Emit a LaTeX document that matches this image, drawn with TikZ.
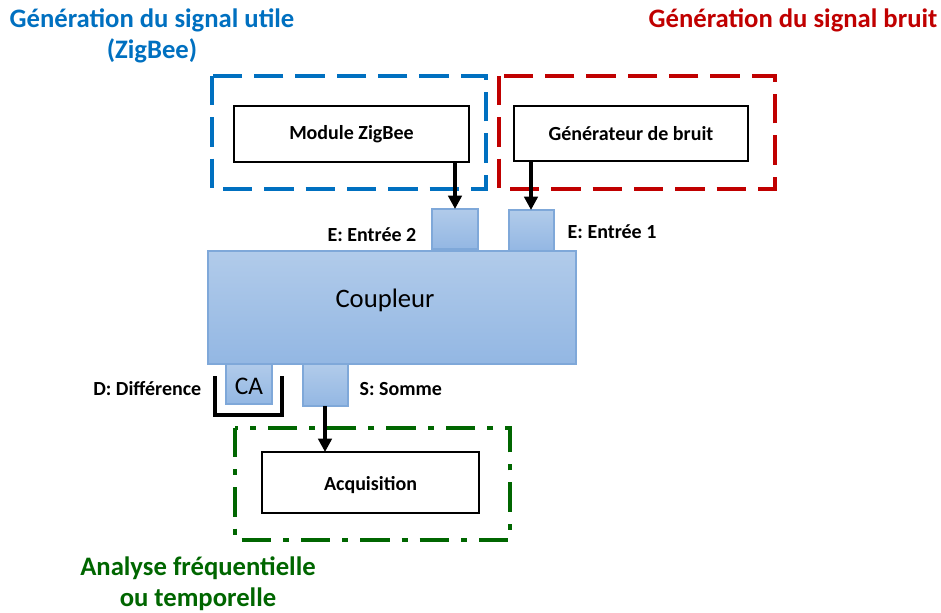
\documentclass[tikz,border=0pt]{standalone}
\usepackage{fontspec}
\setmainfont{Carlito}
\usetikzlibrary{arrows.meta}
\definecolor{tblue}{HTML}{0070C0}
\definecolor{tred}{HTML}{C00000}
\definecolor{tgreen}{HTML}{006600}
\definecolor{ftop}{HTML}{B1CBEA}
\definecolor{fbot}{HTML}{93B7E3}
\definecolor{fedge}{HTML}{7FA8D9}
\tikzset{
  pane/.style={draw=black, line width=0.8pt, fill=white},
  port/.style={draw=fedge, line width=0.8pt, top color=ftop, bottom color=fbot},
  grp/.style={line width=3pt, dash pattern=on 22pt off 9pt},
  dashdot/.style={line width=3pt, dash pattern=on 22pt off 9pt on 4.5pt off 9pt},
  conn/.style={line width=2.6pt, -{Triangle[length=10pt,width=10pt]}},
  lbl/.style={font=\fontsize{15}{18}\selectfont\bfseries},
  ttl/.style={font=\fontsize{20}{23.5}\selectfont\bfseries, align=center},
}
\begin{document}
\begin{tikzpicture}[x=0.75pt,y=-0.75pt]
\useasboundingbox (0,0) rectangle (941,613);
% group frames
\draw[grp, tblue] (212,76) rectangle (486,189);
\draw[grp, tred] (499,76) rectangle (775,189);
\draw[dashdot, tgreen] (235,428) rectangle (510,540);
% titles
\node[ttl, text=tblue] (t1) at (152,36) {Génération du signal utile\\(ZigBee)};
\node[ttl, text=tred] (t2) at (793,20) {Génération du signal bruit};
\node[ttl, text=tgreen] (t3) at (198,584) {Analyse fréquentielle\\ou temporelle};
% boxes
\path[pane] (234,106) rectangle (469,162);
\node[lbl] (mz) at (351.5,134) {Module ZigBee};
\path[pane] (514,106) rectangle (748,161);
\node[lbl] (gb) at (631,133.5) {Générateur de bruit};
\path[pane] (262,452) rectangle (479,513);
\node[lbl] (acq) at (370.5,485) {Acquisition};
% coupler
\path[port] (208,251) rectangle (576,364);
\node[font=\fontsize{20}{24}\selectfont] (cp) at (385,300) {Coupleur};
% ports
\path[port] (432,209) rectangle (478,249);
\path[port] (509,210) rectangle (554,251);
\path[port] (226,364) rectangle (272,404);
\node[font=\fontsize{19}{22}\selectfont] (ca) at (249,386) {CA};
\path[port] (303,364) rectangle (348,406);
% port coordinates
\coordinate (e2top) at (455,209);
\coordinate (e1top) at (531,210);
\coordinate (mzbot) at (455,162);
\coordinate (gbbot) at (531,161);
\coordinate (sbot) at (325,406);
\coordinate (acqtop) at (325,452);
% connectors
\draw[conn] (mzbot) -- (e2top);
\draw[conn] (gbbot) -- (e1top);
\draw[conn] (sbot) -- (acqtop);
% bracket
\coordinate (b1) at (215,376);
\coordinate (b2) at (215,415);
\coordinate (b3) at (282,415);
\coordinate (b4) at (282,376);
\draw[line width=3pt] (b1) -- (b2) -- (b3) -- (b4);
% port labels
\node[lbl, anchor=east] (le2) at (421,235) {E: Entrée 2};
\node[lbl, anchor=west] (le1) at (563,232) {E: Entrée 1};
\node[lbl, anchor=east] (ld) at (206,389) {D: Différence};
\node[lbl, anchor=west] (ls) at (355,389) {S: Somme};
\end{tikzpicture}
\end{document}
